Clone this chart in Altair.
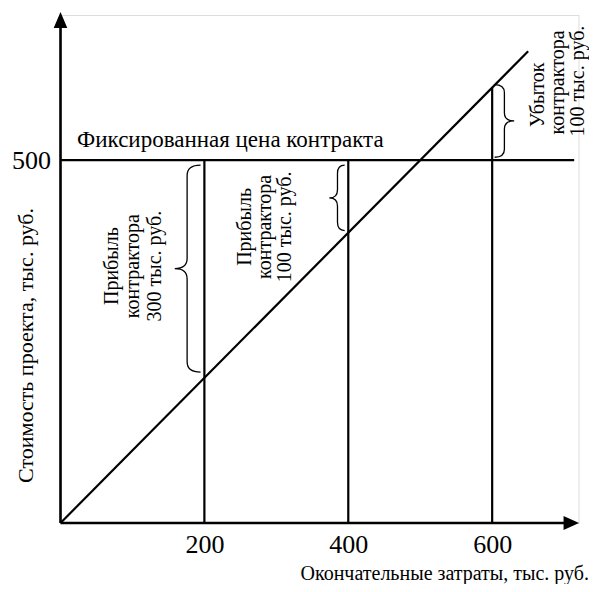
import altair as alt
import pandas as pd

FONT = "Liberation Serif"

# ---- data (thousand roubles) ----
fixed_price = 500
final_costs = [200, 400, 600]
diag_cost = [0, 650]
diag_value = [0, 650]
price_line_end = 714
x_axis_end = 708
y_axis_end = 690
x_arrow = [710]
y_arrow = [693]
tick_x = [200, 400, 600]
tick_y = [500]

title_fixed = "Фиксированная цена контракта"
title_fixed_x = [23]
title_fixed_y = [528]

ann_lines = ["Прибыль", "контрактора", "300 тыс. руб.",
             "Прибыль", "контрактора", "100 тыс. руб.",
             "Убыток", "контрактора", "100 тыс. руб."]
ann_x = [71.5, 100.7, 131.3, 256.3, 284.0, 311.8, 663.2, 691.0, 718.8]
ann_y = [354, 354, 354, 408, 408, 408, 590, 607, 609]

brace_x = [176, 385, 617]
brace_lo = [208, 403, 504]
brace_hi = [493, 493, 604]
brace_dir = ["left", "left", "right"]

# ---- geometry ----
X_DOM = [0, 720]
Y_DOM = [0, 700]
W, H = 518, 508
ky = H / (Y_DOM[1] - Y_DOM[0])

xs = alt.Scale(domain=X_DOM, nice=False, zero=False)
ys = alt.Scale(domain=Y_DOM, nice=False, zero=False)

x_axis = alt.Axis(values=tick_x, title="Окончательные затраты, тыс. руб.",
                  labelFontSize=26, labelPadding=8, labelFont=FONT, labelColor="black",
                  titleFont=FONT, titleFontSize=20, titleFontWeight="normal", titleColor="black",
                  titleX=528, titleY=50, titleAlign="right", titleBaseline="middle",
                  domain=False, ticks=False, grid=False)
y_axis = alt.Axis(values=tick_y, title="Стоимость проекта, тыс. руб.",
                  labelFontSize=26, labelPadding=10, labelFont=FONT, labelColor="black",
                  titleFont=FONT, titleFontSize=22, titleFontWeight="normal", titleColor="black",
                  titleX=-35, titleY=330, titleAngle=270, titleAlign="center", titleBaseline="middle",
                  domain=False, ticks=False, grid=False)


def X(f):
    return alt.X(f, type="quantitative", scale=xs, axis=x_axis)


def Y(f):
    return alt.Y(f, type="quantitative", scale=ys, axis=y_axis)


# diagonal: cost = value
diag = alt.Chart(pd.DataFrame({"x": diag_cost, "y": diag_value})).mark_line(
    color="black", strokeWidth=2.2).encode(x=X("x"), y=Y("y"))

# fixed price line
price = alt.Chart(pd.DataFrame({"x": [0], "x2": [price_line_end], "y": [fixed_price]})).mark_rule(
    color="black", strokeWidth=2.2).encode(x=X("x"), x2="x2:Q", y=Y("y"))

# vertical lines at final costs
vdf = pd.DataFrame({"x": final_costs, "y": [0] * 3,
                    "y2": [max(fixed_price, c) for c in final_costs]})
verts = alt.Chart(vdf).mark_rule(color="black", strokeWidth=2.2).encode(
    x=X("x"), y=Y("y"), y2="y2:Q")

# axes lines
yax = alt.Chart(pd.DataFrame({"x": [0], "y": [0], "y2": [y_axis_end]})).mark_rule(
    color="black", strokeWidth=2.6).encode(x=X("x"), y=Y("y"), y2="y2:Q")
xax = alt.Chart(pd.DataFrame({"x": [0], "x2": [x_axis_end], "y": [0]})).mark_rule(
    color="black", strokeWidth=2.6).encode(x=X("x"), x2="x2:Q", y=Y("y"))

up_head = alt.Chart(pd.DataFrame({"x": [0], "y": y_arrow})).mark_point(
    shape="M0,-1L0.85,1L-0.85,1Z", filled=True, size=256, color="black", opacity=1).encode(
    x=X("x"), y=Y("y"))
right_head = alt.Chart(pd.DataFrame({"x": x_arrow, "y": [0]})).mark_point(
    shape="M1,0L-1,0.9L-1,-0.9Z", filled=True, size=240, color="black", opacity=1).encode(
    x=X("x"), y=Y("y"))

# fixed price label
fixed_lbl = alt.Chart(pd.DataFrame({"x": title_fixed_x, "y": title_fixed_y, "t": [title_fixed]})).mark_text(
    font=FONT, fontSize=23, align="left", baseline="middle", color="black").encode(
    x=X("x"), y=Y("y"), text="t:N")

# rotated annotations
ann = alt.Chart(pd.DataFrame({"x": ann_x, "y": ann_y, "t": ann_lines})).mark_text(
    font=FONT, fontSize=20, angle=270, align="center", baseline="middle", color="black").encode(
    x=X("x"), y=Y("y"), text="t:N")


def brace_path(e, t, c, direction):
    s = 1 if direction == "left" else -1
    return (f"M{s*e},-1 Q0,-1 0,{-1+c} L0,{-c} Q0,0 {-s*t},0 "
            f"Q0,0 0,{c} L0,{1-c} Q0,1 {s*e},1")


brace_shapes = [brace_path(0.13, 0.12, 0.1, brace_dir[0]),
                brace_path(0.22, 0.25, 0.25, brace_dir[1]),
                brace_path(0.27, 0.27, 0.22, brace_dir[2])]

braces = []
for bx, lo, hi, shp in zip(brace_x, brace_lo, brace_hi, brace_shapes):
    hpx = (hi - lo) * ky
    braces.append(alt.Chart(pd.DataFrame({"x": [bx], "y": [(lo + hi) / 2]})).mark_point(
        shape=shp, filled=False, size=hpx * hpx, color="black", strokeWidth=1.3, opacity=1).encode(
        x=X("x"), y=Y("y")))

chart = alt.layer(diag, price, verts, yax, xax, up_head, right_head, fixed_lbl, ann, *braces).properties(
    width=W, height=H,
    autosize=alt.AutoSizeParams(type="none"),
    padding={"left": 52.5, "top": 7, "right": 10.5, "bottom": 61},
).configure_view(stroke=None).configure(background="white")

chart.save("out.html", embed_options={"renderer": "svg", "actions": False})
